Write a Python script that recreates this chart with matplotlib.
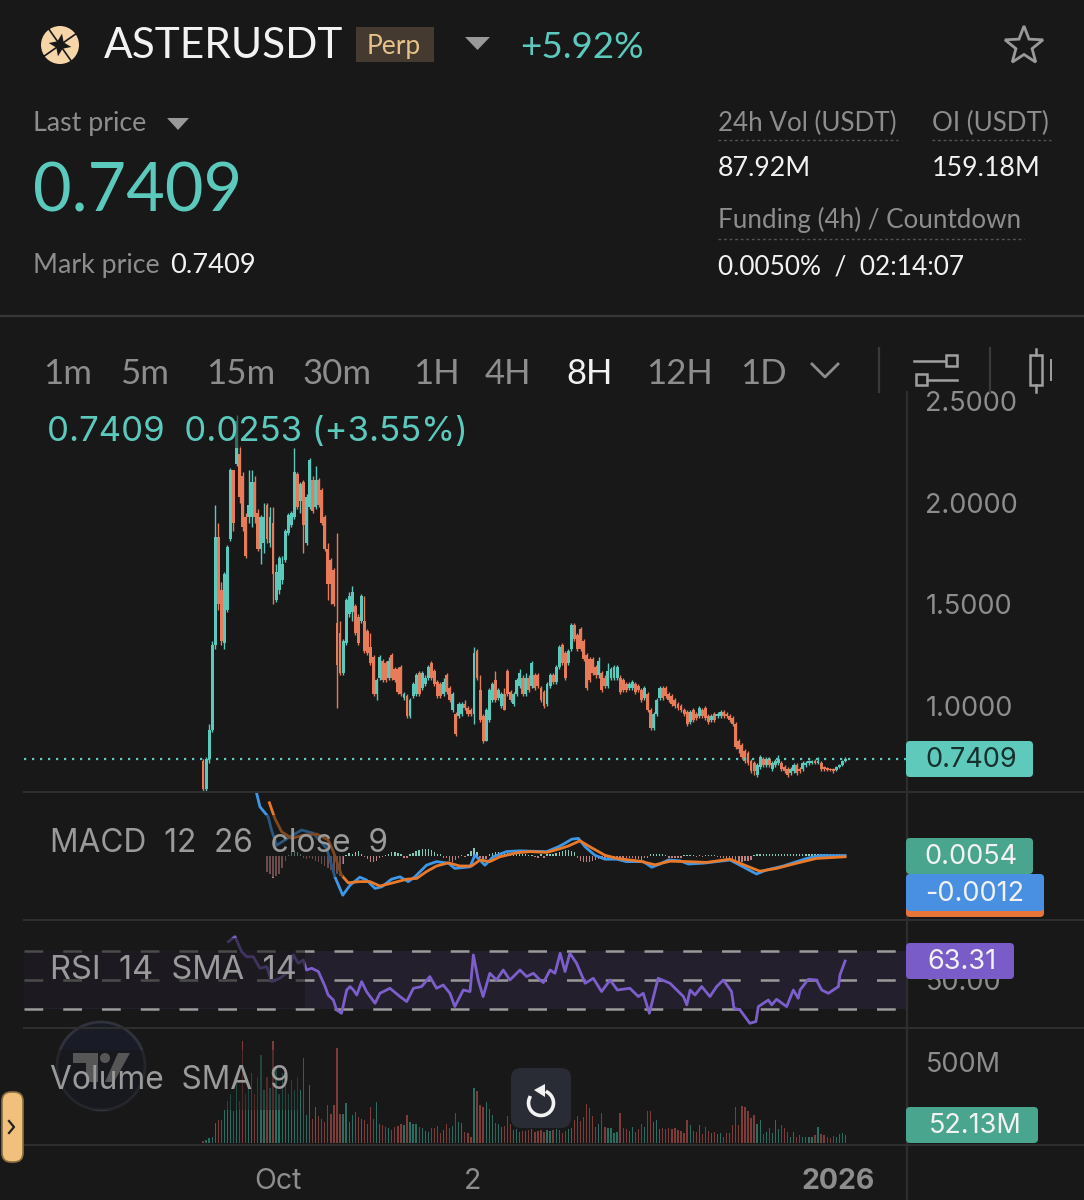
import matplotlib
matplotlib.use('Agg')
import matplotlib.pyplot as plt
from matplotlib.patches import Circle, FancyBboxPatch, Polygon, Rectangle
import numpy as np

BG = '#181818'
GREEN = '#5cc9bd'
RED = '#e87b5a'
GREY = '#8d8d8d'
WHITE = '#f2f2f2'
LINE = '#2e2e2e'

# candles, one per 12h (USDT)
opens = np.array([
    .73, .59, .74, .88, 1.30, 1.83, 1.57, 1.31, 1.47, 1.82,
    2.16, 2.19, 2.24, 2.13, 1.93, 1.93, 1.93, 2.10, 1.95, 1.77,
    1.80, 1.99, 1.80, 1.90, 1.52, 1.57, 1.62, 1.72, 1.85, 1.89,
    1.93, 2.14, 2.01, 2.10, 1.80, 1.98, 2.11, 1.98, 2.11, 2.06,
    1.93, 1.77, 1.72, 1.67, 1.41, 1.36, 1.16, 1.31, 1.45, 1.46,
    1.49, 1.44, 1.42, 1.42, 1.37, 1.29, 1.24, 1.06, 1.14, 1.22,
    1.21, 1.14, 1.25, 1.18, 1.18, 1.19, 1.04, 1.05, .95, 1.05,
    1.06, 1.16, 1.09, 1.11, 1.14, 1.21, 1.17, 1.12, 1.11, 1.06,
    1.15, 1.09, .98, .96, .95, .96, 1.01, .99, .98, .96,
    1.27, 1.08, .95, .83, .93, 1.03, 1.13, 1.04, 1.00, 1.06,
    1.17, 1.07, 1.01, 1.06, 1.10, 1.14, 1.06, 1.14, 1.10, 1.15,
    1.15, 1.09, 1.07, 1.01, 1.10, 1.15, 1.12, 1.19, 1.30, 1.26,
    1.21, 1.28, 1.40, 1.35, 1.38, 1.32, 1.25, 1.23, 1.23, 1.19,
    1.15, 1.16, 1.14, 1.10, 1.14, 1.14, 1.14, 1.14, 1.13, 1.11,
    1.09, 1.09, 1.11, 1.10, 1.08, 1.04, 1.06, .98, .89, .96,
    1.04, 1.09, 1.09, 1.06, 1.05, 1.03, 1.01, 1.00, .98, .97,
    .92, .98, .96, .95, .98, .99, .95, .93, .96, .95,
    .95, .97, .96, .95, .94, .91, .83, .81, .78, .77,
    .73, .72, .66, .70, .74, .71, .74, .69, .71, .72,
    .72, .70, .69, .67, .68, .71, .69, .69, .71, .72,
    .72, .73, .72, .72, .70, .695, .69, .69, .685, .70,
    .71, .73])
closes = np.array([
    .59, .74, .88, 1.30, 1.83, 1.50, 1.32, 1.65, 1.78, 2.16,
    1.90, 2.40, 2.03, 1.88, 1.74, 1.99, 2.10, 1.93, 1.77, 1.93,
    1.93, 1.82, 1.93, 1.65, 1.66, 1.73, 1.70, 1.86, 1.94, 1.95,
    2.15, 1.98, 2.09, 1.89, 2.03, 2.21, 1.96, 2.11, 1.99, 1.90,
    1.77, 1.60, 1.60, 1.50, 1.20, 1.16, 1.32, 1.52, 1.54, 1.56,
    1.36, 1.31, 1.54, 1.27, 1.26, 1.21, 1.06, 1.13, 1.24, 1.13,
    1.13, 1.22, 1.14, 1.13, 1.07, 1.06, 1.06, .95, 1.03, 1.11,
    1.15, 1.06, 1.16, 1.14, 1.19, 1.14, 1.11, 1.05, 1.05, 1.12,
    1.07, 1.03, 1.06, .86, 1.01, 1.01, .99, .96, .96, 1.26,
    1.14, .93, .83, .98, 1.08, 1.11, 1.03, 1.08, 1.06, .98,
    1.06, 1.03, 1.06, 1.13, 1.16, 1.06, 1.14, 1.08, 1.21, 1.09,
    1.10, 1.03, 1.00, 1.11, 1.15, 1.12, 1.19, 1.29, 1.21, 1.14,
    1.27, 1.40, 1.33, 1.28, 1.28, 1.23, 1.09, 1.13, 1.16, 1.15,
    1.22, 1.08, 1.10, 1.17, 1.18, 1.19, 1.19, 1.07, 1.08, 1.08,
    1.11, 1.12, 1.07, 1.08, 1.03, 1.09, .98, .89, .96, 1.03,
    1.09, 1.04, 1.05, 1.03, 1.01, 1.00, .99, .98, .96, .91,
    .97, .93, .94, .99, .95, .94, .92, .95, .93, .96,
    .97, .95, .95, .93, .91, .80, .79, .75, .73, .72,
    .68, .68, .71, .75, .71, .74, .71, .72, .73, .74,
    .69, .68, .66, .69, .71, .67, .68, .72, .72, .73,
    .73, .72, .73, .69, .69, .685, .685, .68, .70, .71,
    .73, .7409])
highs = np.array([
    .74, .75, .91, 1.32, 1.99, 1.90, 1.61, 1.66, 1.79, 2.17,
    2.16, 2.43, 2.28, 2.15, 1.95, 2.16, 2.16, 2.13, 1.97, 1.94,
    2.00, 2.00, 1.98, 1.98, 1.70, 1.74, 1.74, 1.87, 1.95, 1.96,
    2.27, 2.15, 2.10, 2.11, 2.04, 2.22, 2.13, 2.18, 2.12, 2.07,
    1.94, 1.80, 1.73, 1.68, 1.85, 1.42, 1.33, 1.53, 1.56, 1.59,
    1.50, 1.45, 1.55, 1.54, 1.38, 1.36, 1.25, 1.14, 1.25, 1.23,
    1.22, 1.24, 1.26, 1.19, 1.19, 1.20, 1.07, 1.06, 1.04, 1.12,
    1.16, 1.17, 1.17, 1.15, 1.20, 1.22, 1.18, 1.13, 1.12, 1.14,
    1.16, 1.10, 1.07, .97, 1.02, 1.02, 1.03, 1.00, .99, 1.29,
    1.28, 1.15, .96, .99, 1.09, 1.12, 1.17, 1.09, 1.07, 1.09,
    1.18, 1.08, 1.07, 1.14, 1.18, 1.15, 1.16, 1.15, 1.22, 1.16,
    1.16, 1.10, 1.08, 1.12, 1.16, 1.16, 1.20, 1.30, 1.31, 1.27,
    1.28, 1.41, 1.41, 1.36, 1.39, 1.33, 1.26, 1.24, 1.24, 1.20,
    1.24, 1.17, 1.15, 1.21, 1.19, 1.20, 1.20, 1.15, 1.14, 1.12,
    1.12, 1.13, 1.12, 1.11, 1.09, 1.10, 1.07, .99, .97, 1.04,
    1.10, 1.10, 1.10, 1.07, 1.06, 1.04, 1.02, 1.01, .99, .98,
    .98, .99, .97, 1.00, .99, 1.00, .96, .96, .97, .97,
    .98, .98, .97, .96, .95, .92, .84, .82, .79, .78,
    .74, .73, .72, .76, .75, .75, .75, .73, .74, .76,
    .73, .71, .70, .70, .72, .72, .70, .73, .73, .735,
    .735, .74, .75, .73, .705, .70, .695, .695, .705, .715,
    .735, .75])
lows = np.array([
    .58, .58, .72, .87, 1.28, 1.47, 1.30, 1.28, 1.46, 1.81,
    1.86, 2.18, 2.00, 1.86, 1.73, 1.90, 1.88, 1.90, 1.76, 1.70,
    1.75, 1.80, 1.78, 1.50, 1.51, 1.55, 1.60, 1.71, 1.84, 1.88,
    1.92, 1.97, 1.95, 1.75, 1.79, 1.97, 1.95, 1.97, 1.98, 1.89,
    1.76, 1.52, 1.50, 1.49, .99, 1.15, 1.15, 1.30, 1.44, 1.42,
    1.35, 1.30, 1.41, 1.26, 1.25, 1.20, 1.05, 1.03, 1.13, 1.12,
    1.12, 1.13, 1.13, 1.12, 1.06, 1.05, 1.03, .94, .94, 1.04,
    1.05, 1.05, 1.08, 1.10, 1.13, 1.13, 1.10, 1.04, 1.04, 1.05,
    1.06, 1.02, .97, .85, .94, .95, .98, .95, .95, .91,
    1.13, .92, .82, .83, .92, 1.02, 1.02, 1.03, .99, .98,
    1.05, 1.02, 1.00, 1.05, 1.09, 1.05, 1.05, 1.07, 1.09, 1.08,
    1.09, 1.02, .99, 1.00, 1.09, 1.11, 1.11, 1.18, 1.20, 1.13,
    1.20, 1.27, 1.32, 1.27, 1.27, 1.22, 1.08, 1.12, 1.15, 1.14,
    1.14, 1.07, 1.09, 1.09, 1.13, 1.13, 1.13, 1.06, 1.07, 1.07,
    1.08, 1.08, 1.06, 1.07, 1.02, 1.03, .97, .88, .88, .95,
    1.03, 1.03, 1.04, 1.02, 1.00, .99, .98, .97, .95, .90,
    .91, .92, .93, .94, .94, .93, .91, .92, .92, .94,
    .94, .94, .94, .92, .90, .79, .77, .74, .72, .71,
    .67, .66, .65, .69, .70, .70, .70, .68, .70, .71,
    .68, .67, .65, .66, .67, .66, .67, .68, .70, .71,
    .715, .715, .715, .68, .68, .68, .68, .67, .68, .695,
    .705, .725])

# volume per candle, millions
volumes = np.array([
    15, 20, 30, 40, 125, 145, 145, 205, 257, 300,
    200, 390, 260, 628, 300, 360, 430, 300, 410, 545,
    330, 410, 340, 628, 470, 300, 430, 360, 300, 390,
    330, 410, 330, 525, 170, 360, 150, 225, 165, 150,
    130, 235, 180, 235, 587, 180, 180, 245, 130, 170,
    190, 160, 150, 140, 120, 225, 150, 255, 120, 110,
    100, 90, 80, 100, 105, 115, 110, 175, 130, 115,
    120, 100, 90, 75, 70, 90, 95, 105, 60, 80,
    115, 95, 105, 185, 130, 125, 70, 60, 40, 340,
    320, 235, 220, 255, 210, 170, 125, 120, 100, 105,
    165, 115, 80, 85, 70, 75, 75, 80, 85, 70,
    75, 80, 70, 80, 75, 80, 85, 80, 60, 75,
    85, 95, 145, 165, 135, 160, 243, 215, 165, 100,
    115, 185, 100, 95, 90, 60, 70, 185, 90, 85,
    75, 100, 70, 85, 120, 100, 195, 200, 130, 145,
    85, 90, 85, 90, 85, 95, 80, 75, 60, 140,
    110, 75, 65, 110, 55, 100, 75, 60, 70, 55,
    60, 40, 60, 60, 110, 222, 110, 230, 225, 200,
    155, 170, 120, 140, 55, 65, 90, 60, 145, 85,
    110, 95, 70, 35, 65, 40, 50, 35, 35, 40,
    40, 50, 100, 55, 50, 40, 30, 45, 40, 55,
    62, 52])

# MACD histogram, candles 21 to 211
macd_hist = np.array([
    -.04, -.045, -.055, -.05, -.045, -.03, -.012, .002, .012,
    .016, .01, .004, -.004, -.008, -.006, -.008, -.012, -.016, -.02,
    -.025, -.03, -.035, -.04, -.045, -.05, -.02, .003, .008, .006,
    .01, .012, .005, -.003, -.008, -.014, -.016, -.012, -.006, -.002,
    .003, .006, .01, .01, .008, .005, -.005, -.006, .004, .008,
    .012, .015, .017, .017, .018, .014, .01, .006, .004, -.004,
    -.006, -.012, -.014, -.01, -.004, .002, -.002, .004, .012, .02,
    .01, -.004, -.01, -.008, .004, .008, .01, .009, .009, .01,
    .008, .008, .006, .006, .005, .004, .004, .003, .002, -.002,
    -.004, .004, -.006, .004, .005, .006, .008, .01, .012, .014,
    .015, .012, .01, -.006, -.012, -.016, -.014, -.016, -.012, -.01,
    -.008, -.004, -.004, -.005, -.006, -.005, -.005, -.005, -.004, -.005,
    -.006, -.006, -.007, -.008, -.01, -.006, -.004, .004, .006, .006,
    .005, .004, .003, -.004, -.005, -.006, -.006, -.004, .003, .003,
    .002, .003, -.002, .003, -.002, .002, .003, .002, .002, -.003,
    -.004, -.006, -.008, -.01, -.012, -.014, -.014, -.014, -.013, -.012,
    -.01, .003, .004, .005, .004, .005, .004, .005, .006, .005,
    .005, .005, .006, .005, .006, .006, .005, .006, .006, .005,
    .005, .006, .005, .005, .004, .005, .004, .004, .005, .004,
    .004, .004])

# MACD and signal lines: vertices (candle number, value)
macd_bars = [17.6, 18.7, 21.4, 22.5, 24.2, 28.6, 32.4, 36.2, 40.6, 43.3, 45.9, 48.3, 51.5, 53.7,
             56.5, 58.7, 61.9, 64.7, 67.4, 69.6, 73.4, 76.7, 80.6, 82.7, 87.7, 89.3, 92.6, 95.3,
             99.7, 104.1, 107.4, 112.9, 116.7, 118.9, 121.1, 123.3, 125.5, 128.7, 132, 135.9,
             139.1, 144.6, 147.4, 150.1, 152.8, 156.7, 159.4, 164.3, 173.1, 176.4, 181.8, 185.1,
             190.6, 198.3, 202.6, 210.9]
macd_line = [.157, .123, .098, .065, .027, .048, .065, .057, .019, -.052, -.098, -.073, -.053, -.06,
             -.081, -.077, -.058, -.052, -.064, -.052, -.023, -.014, -.018, -.031, -.027, .002, -.023,
             -.002, .011, .013, .012, .011, .023, .032, .042, .044, .023, .002, -.008, -.008,
             -.014, -.014, -.028, -.02, -.01, -.012, -.02, -.018, -.01, -.023, -.045, -.035,
             -.025, -.006, .001, .001]
signal_bars = [21.8, 23.6, 25.8, 29.1, 32.9, 37.3, 41.1, 42.8, 45.5, 47.7, 51.5, 54.8, 58.1, 61.9,
               66.9, 70.2, 73.4, 76.7, 80.6, 84.4, 88.2, 91, 94.2, 97.5, 103, 107.4, 112.9, 116.7,
               120, 123.8, 127.1, 132, 135.9, 143.5, 148.5, 153.4, 158.9, 165.4, 173.1, 178.6,
               182.9, 188.4, 195, 201.5, 210.9]
signal_line = [.133, .094, .061, .044, .052, .055, .04, .011, -.048, -.067, -.064, -.064, -.075, -.068,
               -.058, -.056, -.039, -.025, -.017, -.025, -.025, -.01, -.014, -.002, .008, .011, .009, .017,
               .025, .038, .023, .002, -.006, -.013, -.022, -.013, -.014, -.016, -.008, -.025,
               -.038, -.031, -.018, -.006, -.002]

# RSI vertices (candle number, value)
rsi_bars = [8.3, 10.5, 12.7, 14.3, 16.5, 18.7, 20.9, 22.5, 25.3, 28, 29.7, 31.3, 32.9, 34, 35.7, 37.9,
            40.1, 41.1, 42.8, 43.9, 45.5, 47.2, 48.3, 49.4, 50.5, 52.1, 53.7, 56.5, 58.1, 61.4, 64.7,
            66.9, 69.1, 71.8, 74.5, 76.7, 78.9, 81.1, 82.7, 85.5, 87.7, 88.8, 90.4, 92, 94.2, 96.4,
            98.6, 100.8, 104.1, 106.3, 108.5, 110.7, 111.8, 114, 115.6, 117.3, 118.9, 120.5, 122.7,
            125.5, 128.2, 130.9, 133.7, 136.1, 140.2, 143, 144.6, 146.6, 148.8, 149.5, 153.4, 157.8,
            158.9, 160, 161.6, 163.8, 166.5, 168.7, 170.9, 173.6, 174.4, 176.4, 179.6, 181.6, 182.4,
            185.7, 186.8, 188.4, 191.7, 193.9, 195.5, 196.1, 198.8, 201.5, 203.2, 205.4, 208.7,
            209.2, 210.9]
rsi_vals = [76.8, 80.3, 69.8, 66.3, 66.3, 58.2, 59.4, 48.9, 51.2, 55.9, 67.5, 61.7, 64, 57, 58.2, 55.9,
            45.4, 39.5, 36, 29, 26.7, 43, 45.4, 43, 39.5, 48.9, 41.9, 33.7, 40.7, 44.2, 38.4,
            34.9, 44.2, 45.4, 52.4, 44.2, 46.5, 40.7, 31.4, 43, 41.9, 67.5, 50, 38.4, 54.7, 50,
            57, 50, 57, 52.4, 54.7, 50, 48.2, 57, 54.7, 68.7, 55.9, 68.7, 61.7,
            47.7, 51.2, 41.9, 50, 43, 44.2, 38.4, 40.7, 26.7, 45.4, 51.2, 47.7, 38.4,
            32.6, 43, 39.5, 45.4, 38.4, 45.4, 50, 41.9, 30.2, 29, 19.7, 20.9, 31.4,
            36, 32.6, 36.5, 31.4, 43, 37.2, 43, 50.5, 50, 43, 40.7, 45.4,
            53.5, 63.31]

price_ticks = [1.0, 1.5, 2.0, 2.5]
last_price = 0.7409
time_ticks = [24.6, 88.6, 208.6]   # Oct 1, Nov 2, Jan 1 in candle numbers
time_labels = ['Oct', '2', '2026']
intervals = ['1m', '5m', '15m', '30m', '1H', '4H', '8H', '12H', '1D']
interval_x = [43, 120, 206, 303, 413, 485, 566, 646, 740]

W, H = 1084, 1200
AXIS_SIZE = 19.5
fig = plt.figure(figsize=(W / 100, H / 100), dpi=100)
fig.patch.set_facecolor(BG)


def pane(top, bottom):
    ax = fig.add_axes([24 / W, 1 - bottom / H, 882 / W, (bottom - top) / H])
    ax.set_facecolor('none')
    for s in ax.spines.values():
        s.set_visible(False)
    ax.set_xlim(-58.8, 230.9)
    ax.yaxis.tick_right()
    ax.set_xticks([])
    ax.tick_params(axis='both', length=0, labelcolor=GREY, pad=14)
    return ax


bars = np.arange(len(closes))
up = closes >= opens

# Price pane
ax1 = pane(392, 791)
ax1.set_ylim(0.582, 2.544)
candle_colors = np.where(up, GREEN, RED)
ax1.vlines(bars, lows, highs, colors=candle_colors, linewidth=1.0)
ax1.bar(bars, np.maximum(np.abs(closes - opens), 0.006), bottom=np.minimum(opens, closes),
        width=0.95, color=candle_colors, linewidth=0)
ax1.axhline(last_price, color=GREEN, lw=1.6, ls=(0, (1, 2.6)))
ax1.set_yticks(price_ticks)
ax1.set_yticklabels(['%.4f' % p for p in price_ticks], family='Inter', fontsize=AXIS_SIZE)

# MACD pane
ax2 = pane(793, 919)
ax2.set_ylim(-.1575, .1575)
hist_bars = np.arange(21, 212)
ax2.bar(hist_bars, macd_hist, width=0.45,
        color=np.where(macd_hist >= 0, '#86c9b8', '#c08080'), linewidth=0)
ax2.plot(macd_bars, macd_line, color='#3f97e8', lw=2.0, solid_joinstyle='round')
ax2.plot(signal_bars, signal_line, color='#e97a2b', lw=2.0, solid_joinstyle='round')
ax2.set_yticks([])

# RSI pane
ax3 = pane(921, 1027)
ax3.set_ylim(17.1, 91.3)
ax3.axhspan(30, 70, color='#231f2d', lw=0)
for level in [30, 50, 70]:
    ax3.axhline(level, color='#9a9a9a', lw=1.8, ls=(0, (7.5, 8)))
ax3.plot(rsi_bars, rsi_vals, color='#7c5fcb', lw=2.0, solid_joinstyle='round')
ax3.set_yticks([50])
ax3.set_yticklabels(['50.00'], family='Inter', fontsize=AXIS_SIZE)

# Volume pane
ax4 = pane(1029, 1143)
ax4.set_ylim(0, 704)
ax4.bar(bars, volumes, width=0.42, color=np.where(up, '#2a6e62', '#7d3c3a'), linewidth=0)
ax4.set_yticks([500])
ax4.set_yticklabels(['500M'], family='Inter', fontsize=AXIS_SIZE)
ax4.set_xticks(time_ticks)
ax4.set_xticklabels(time_labels, family='Inter', fontsize=20.5)
ax4.tick_params(axis='x', pad=18)
ax4.get_xticklabels()[2].set_fontweight('bold')

# Everything else is drawn on a pixel overlay
ui = fig.add_axes([0, 0, 1, 1], zorder=10)
ui.set_xlim(0, W)
ui.set_ylim(H, 0)
ui.axis('off')
ui.patch.set_alpha(0)


def label(x, y, s, size, color=GREY, family='Lato', **kw):
    kw.setdefault('va', 'baseline')
    ui.text(x, y, s, fontsize=size, color=color, family=family, **kw)


def rect(x0, y0, x1, y1, color, alpha=1, z=2):
    ui.add_patch(Rectangle((x0, y0), x1 - x0, y1 - y0, facecolor=color, edgecolor='none', alpha=alpha, zorder=z))


def tag(x0, y0, x1, y1, color, z=3):
    ui.add_patch(FancyBboxPatch((x0, y0), x1 - x0, y1 - y0, boxstyle='round,pad=0,rounding_size=4',
                                facecolor=color, edgecolor='none', zorder=z))


# dividers
ui.plot([0, W], [316, 316], color='#383838', lw=1.6)
for y in [792, 920, 1028, 1145]:
    ui.plot([24, W], [y, y], color=LINE, lw=1.5)
ui.plot([907, 907], [392, H], color=LINE, lw=1.6)

# legend backdrops dim what lies under them
rect(47, 412, 465, 448, BG, 0.55)
rect(40, 815, 343, 877, BG, 0.5)
rect(24, 938, 305, 1008, BG, 0.6)
rect(40, 1050, 300, 1110, BG, 0.45)

# header
ui.add_patch(Circle((60, 45), 19, facecolor='#f6d6a8', edgecolor='none'))
for a in [55, 145, 235, 325]:
    ui.plot([60, 60 + 20 * np.cos(np.radians(a))], [45, 45 + 20 * np.sin(np.radians(a))], color=BG, lw=1.2)
ang = np.radians(np.arange(0, 360, 45) + 10)
rad = np.array([11.5, 4.5] * 4)
ui.add_patch(Polygon(np.c_[60 + rad * np.cos(ang), 45 + rad * np.sin(ang)], facecolor=BG, edgecolor='none', zorder=3))
label(104, 58, 'ASTERUSDT', 30.5, WHITE)
rect(356, 27, 434, 62, '#453a30')
label(367, 54, 'Perp', 19, '#e8c08a', zorder=4)
ui.add_patch(Polygon([(465, 37), (490, 37), (477.5, 50)], facecolor='#999999', edgecolor='none'))
label(520, 58, '+5.92%', 26.5, GREEN)
ang = np.radians(np.arange(0, 360, 36) - 90)
rad = np.array([20, 8.5] * 5)
ui.add_patch(Polygon(np.c_[1024 + rad * np.cos(ang), 46 + rad * np.sin(ang)], facecolor='none', edgecolor='#9a9a9a', lw=2))

label(33, 131, 'Last price', 19.3)
ui.add_patch(Polygon([(167, 118), (189, 118), (178, 130)], facecolor='#999999', edgecolor='none'))
label(33, 212, '0.7409', 48, GREEN)
label(33, 273, 'Mark price', 19.3)
label(170, 273, '0.7409', 19.6, WHITE)

label(718, 131, '24h Vol (USDT)', 18.7)
label(932, 131, 'OI (USDT)', 18.7)
label(718, 176, '87.92M', 19.3, WHITE)
label(932, 176, '159.18M', 19.3, WHITE)
label(718, 228, 'Funding (4h) / Countdown', 18.7)
label(718, 274, '0.0050%  /  02:14:07', 18.9, WHITE)
for x0, x1, y in [(718, 898, 140), (932, 1051, 140), (718, 1024, 239)]:
    ui.plot([x0, x1], [y, y], color='#555555', lw=1, ls=(0, (2, 2)))

# interval toolbar
for x, s in zip(interval_x, intervals):
    label(x, 384, s, 25, WHITE if s == '8H' else GREY)
ui.plot([812, 825, 838], [364, 377, 364], color=GREY, lw=2)
ui.plot([879, 879], [348, 392], color='#3a3a3a', lw=1.6)
ui.plot([990, 990], [348, 392], color='#3a3a3a', lw=1.6)
ui.plot([914, 945], [361, 361], color='#a0a0a0', lw=1.8)
ui.plot([927, 957], [380, 380], color='#a0a0a0', lw=1.8)
for x0, y0 in [(946, 355), (916, 374)]:
    ui.add_patch(Rectangle((x0, y0), 11, 11, facecolor='none', edgecolor='#a0a0a0', lw=1.8))
ui.add_patch(Rectangle((1030, 355), 12, 30, facecolor='none', edgecolor='#a0a0a0', lw=1.8))
ui.plot([1036, 1036], [349, 355], color='#a0a0a0', lw=1.8)
ui.plot([1036, 1036], [385, 392], color='#a0a0a0', lw=1.8)
ui.plot([1051, 1051], [360, 380], color='#a0a0a0', lw=1.4)

# pane legends
label(47, 441, '0.7409  0.0253 (+3.55%)', 25, GREEN, family='Inter')
label(50, 852, 'MACD  12  26  close  9', 22.8, '#9a9a9a', family='Inter')
label(50, 979, 'RSI  14  SMA  14', 23.5, '#9a9a9a', family='Inter')

# watermark behind the volume legend
ui.add_patch(Circle((101, 1066), 44, facecolor='#191b26', edgecolor='#30323c', lw=2, zorder=1))
ui.add_patch(Polygon([(73, 1053), (98, 1053), (98, 1082), (86, 1082), (86, 1063), (73, 1063)],
                     facecolor='#8a8a8a', edgecolor='none', zorder=1.5))
ui.add_patch(Circle((105, 1058), 5, facecolor='#8a8a8a', edgecolor='none', zorder=1.5))
ui.add_patch(Polygon([(118, 1053), (130, 1053), (114, 1082), (105, 1082)],
                     facecolor='#8a8a8a', edgecolor='none', zorder=1.5))
label(50, 1089, 'Volume  SMA  9', 22.8, '#9a9a9a', family='Inter', zorder=4)

# value tags
tag(906, 741, 1033, 777, '#5fc9bc')
label(971, 767, '0.7409', AXIS_SIZE, '#16302d', family='Inter', ha='center', zorder=5)
tag(906, 905, 1044, 917, '#e8743a')
tag(906, 838, 1033, 874, '#4aa58f')
label(971, 864, '0.0054', AXIS_SIZE, WHITE, family='Inter', ha='center', zorder=5)
tag(906, 874, 1044, 911, '#4a90e2', z=4)
label(975, 901, '-0.0012', AXIS_SIZE, WHITE, family='Inter', ha='center', zorder=5)
tag(906, 943, 1014, 979, '#7a5cc8')
label(962, 969, '63.31', AXIS_SIZE, WHITE, family='Inter', ha='center', zorder=5)
tag(906, 1107, 1038, 1143, '#4aa58f')
label(975, 1133, '52.13M', AXIS_SIZE, WHITE, family='Inter', ha='center', zorder=5)

# reset button
ui.add_patch(FancyBboxPatch((511, 1068), 60, 60, boxstyle='round,pad=0,rounding_size=10',
                            facecolor='#2a2c35', edgecolor='none', zorder=5))
t = np.radians(np.linspace(-60, 205, 40))
ui.plot(541 + 12.5 * np.cos(t), 1103 + 12.5 * np.sin(t), color=WHITE, lw=2.6, zorder=6)
ui.add_patch(Polygon([(545, 1084), (545, 1097), (534, 1090)], facecolor=WHITE, edgecolor='none', zorder=6))

# side handle
ui.add_patch(FancyBboxPatch((2, 1092), 21, 70, boxstyle='round,pad=0,rounding_size=9',
                            facecolor='#f0c07c', edgecolor='#8a7040', lw=1.2, zorder=6))
ui.plot([9, 14, 9], [1121, 1127, 1133], color='#222222', lw=1.6, zorder=7)

fig.savefig('out.png', dpi=100, facecolor=BG)
